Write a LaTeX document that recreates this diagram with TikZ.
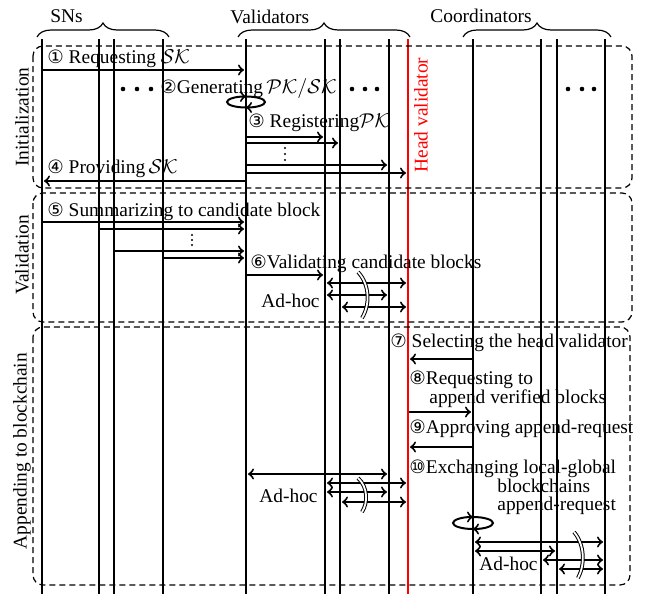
\documentclass[tikz,border=0pt]{standalone}
\usepackage{fontspec}
\setmainfont{Liberation Serif}
\newfontfamily\circfont{DejaVu Sans}
\usetikzlibrary{decorations.pathreplacing}
\newcommand{\cnum}[1]{{\circfont\fontsize{9.2}{10}\selectfont #1}}
\newcommand{\arr}[4]{\draw[#1] (#2 |- 0,#4) -- (#3 |- 0,#4);}

\begin{document}
\begin{tikzpicture}[x=0.5pt, y=-0.5pt, font=\fontsize{9.7}{11}\selectfont,
    life/.style={line width=0.7pt},
    msg/.style={line width=1pt, ->, shorten >=1pt, shorten <=0.5pt},
    dmsg/.style={line width=1pt, <->, shorten >=1pt, shorten <=1pt},
    phase/.style={densely dashed, line width=0.6pt, rounded corners=5pt},
    txt/.style={anchor=base west, inner sep=0pt},
    group/.style={decorate, decoration={brace, amplitude=7pt}, line width=0.6pt},
    adhoc/.style={double, double distance=0.9pt, line width=0.5pt}]
    \useasboundingbox (0,0) rectangle (649,594);

    % Lifelines
    \foreach \name/\x in {sn1/42, sn2/99, sn3/114, sn4/163, v1/246, v2/325, v3/340, v4/389, c1/473, c2/541, c3/557, c4/605} {
        \coordinate (\name) at (\x,39);
        \draw[life] (\name) -- ++(0,555);
    }
    \coordinate (hv) at (408,39);
    \draw[life, red] (hv) -- ++(0,555);
    \node[rotate=90, red] (hvlabel) at (421,115) {Head validator};

    % Groups
    \draw[group] (37,37) -- (169,37);
    \draw[group] (238,37) -- (410,37);
    \draw[group] (463,37) -- (611,37);
    \node[txt] (snlabel) at (50,23) {SNs};
    \node[txt] (vlabel) at (230,24) {Validators};
    \node[txt] (clabel) at (430,23) {Coordinators};
    \foreach \x in {123,137,151,352,365,377,568,582,594}
        \fill (\x,89) circle (2.3);

    % Phases
    \draw[phase] (33,46) rectangle (632,188);
    \draw[phase] (33,193) rectangle (632,322);
    \draw[phase] (33,327) rectangle (630,585);
    \node[rotate=90] (init) at (22,117) {Initialization};
    \node[rotate=90] (valid) at (22,255) {Validation};
    \node[rotate=90] (append) at (22,451) {Appending to blockchain};

    % Initialization
    \node[txt] (t1) at (47,63) {\cnum{①} Requesting $\mathcal{SK}$};
    \arr{msg}{sn1}{v1}{70}
    \node[txt] (t2) at (160,93) {\cnum{②}Generating$\,\mathcal{PK}/\mathcal{SK}$};
    \draw[line width=1pt, ->] (246,107.5) arc[start angle=90, end angle=270, x radius=19, y radius=5.5];
    \draw[line width=1pt, ->] (246,96.5) arc[start angle=-90, end angle=90, x radius=19, y radius=5.5];
    \node[txt] (t3) at (248,127) {\cnum{③} Registering$\mathcal{PK}$};
    \arr{msg}{v1}{v2}{137}
    \arr{msg}{v1}{v3}{143}
    \foreach \y in {148,154,160}
        \fill (285,\y) circle (1.1);
    \arr{msg}{v1}{v4}{165}
    \arr{msg}{v1}{hv}{173}
    \node[txt] (t4) at (47,173) {\cnum{④} Providing$\,\mathcal{SK}$};
    \arr{msg}{v1}{sn1}{181}

    % Validation
    \node[txt] (t5) at (47,216) {\cnum{⑤} Summarizing to candidate block};
    \arr{msg}{sn1}{v1}{222}
    \arr{msg}{sn2}{v1}{229}
    \foreach \y in {235,240,245}
        \fill (192,\y) circle (1.1);
    \arr{msg}{sn3}{v1}{251}
    \arr{msg}{sn4}{v1}{258}
    \node[txt] (t6) at (250,268) {\cnum{⑥}Validating candidate blocks};
    \arr{msg}{v1}{v2}{275}
    \arr{dmsg}{v2}{hv}{283}
    \arr{dmsg}{v2}{v4}{295}
    \arr{dmsg}{v3}{hv}{307}
    \draw[adhoc] (358,272) .. controls (370,285) and (370,305) .. (362,318);
    \node[txt] (adhoc1) at (261,307) {Ad-hoc};

    % Appending to blockchain
    \node[txt] (t7) at (390,347) {\cnum{⑦} Selecting the head validator};
    \arr{msg}{c1}{hv}{359}
    \node[txt] (t8) at (409,384) {\cnum{⑧}Requesting to};
    \node[txt] (t8b) at (429,403) {append verified blocks};
    \arr{msg}{hv}{c1}{412}
    \node[txt] (t9) at (409,433) {\cnum{⑨}Approving append-request};
    \arr{msg}{c1}{hv}{447}
    \node[txt] (t10) at (409,473) {\cnum{⑩}Exchanging local-global};
    \node[txt] (t10b) at (497,492) {blockchains};
    \node[txt] (t10c) at (497,510) {append-request};
    \arr{dmsg}{v1}{v4}{474}
    \arr{dmsg}{v2}{hv}{483}
    \arr{dmsg}{v2}{v4}{492}
    \arr{dmsg}{v3}{hv}{502}
    \draw[adhoc] (358,478) .. controls (368,487) and (368,503) .. (362,512);
    \node[txt] (adhoc2) at (259,502) {Ad-hoc};
    \draw[line width=1pt, ->] (473,529) arc[start angle=90, end angle=270, x radius=20, y radius=6];
    \draw[line width=1pt, ->] (473,517) arc[start angle=-90, end angle=90, x radius=20, y radius=6];
    \arr{dmsg}{c1}{c4}{542}
    \arr{dmsg}{c1}{c3}{551}
    \arr{dmsg}{c2}{c4}{560}
    \arr{dmsg}{c3}{c4}{569}
    \draw[adhoc] (574,532) .. controls (585,545) and (585,565) .. (578,578);
    \node[txt] (adhoc3) at (479,570) {Ad-hoc};
\end{tikzpicture}
\end{document}
